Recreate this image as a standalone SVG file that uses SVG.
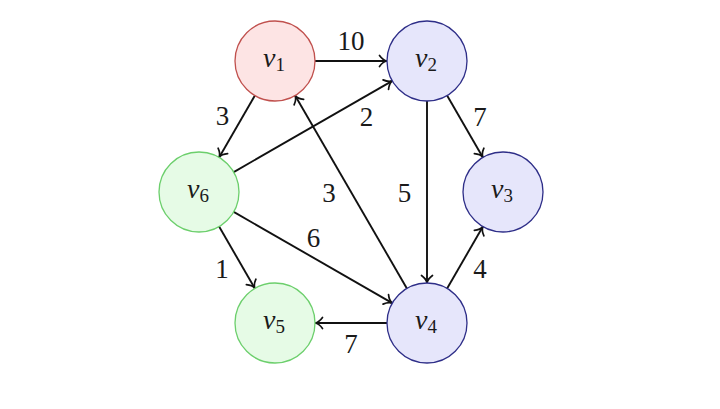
<svg xmlns="http://www.w3.org/2000/svg" width="720" height="409" viewBox="0 0 720 409">
<defs>
<marker id="to" markerUnits="userSpaceOnUse" markerWidth="16" markerHeight="16" viewBox="-9 -8 11 16" refX="0" refY="0" orient="auto">
<path d="M-7.5,-5.5 C-5,-2 -2,-0.3 0,0 C-2,0.3 -5,2 -7.5,5.5" fill="none" stroke="#111" stroke-width="1.7" stroke-linecap="round"/>
</marker>
<style>
.edge{stroke:#111;stroke-width:1.9;fill:none;marker-end:url(#to)}
.red{fill:#fde4e4;stroke:#c0504d;stroke-width:1.3}
.blue{fill:#e6e6fb;stroke:#2e2e88;stroke-width:1.3}
.green{fill:#e6fbe6;stroke:#6ccf6c;stroke-width:1.3}
.nl{font-family:'Liberation Serif','Times New Roman',serif;font-size:28px;fill:#1a1a1a;text-anchor:middle}
.v{font-style:italic}
.sub{font-size:19px}
.wl{font-family:'Liberation Serif','Times New Roman',serif;font-size:27px;fill:#1a1a1a;text-anchor:middle}
</style>
</defs>
<rect width="720" height="409" fill="#fff"/>
<g id="connectors">
<line class="edge" x1="315" y1="61" x2="387" y2="61"/>
<line class="edge" x1="254.9" y1="95.6" x2="219.1" y2="157.4"/>
<line class="edge" x1="233.7" y1="172.1" x2="392.3" y2="80.9"/>
<line class="edge" x1="406.9" y1="288.4" x2="295.1" y2="95.6"/>
<line class="edge" x1="427" y1="101" x2="427" y2="283"/>
<line class="edge" x1="447.1" y1="95.6" x2="482.9" y2="157.4"/>
<line class="edge" x1="219.1" y1="226.6" x2="254.9" y2="288.4"/>
<line class="edge" x1="233.7" y1="211.9" x2="392.3" y2="303.1"/>
<line class="edge" x1="447.1" y1="288.4" x2="482.9" y2="226.6"/>
<line class="edge" x1="387" y1="323" x2="315" y2="323"/>
<text class="wl" x="351" y="50">10</text>
<text class="wl" x="222.5" y="125">3</text>
<text class="wl" x="366.5" y="126">2</text>
<text class="wl" x="480" y="126">7</text>
<text class="wl" x="329" y="202">3</text>
<text class="wl" x="404.5" y="202">5</text>
<text class="wl" x="313.5" y="247">6</text>
<text class="wl" x="222" y="278">1</text>
<text class="wl" x="480" y="278">4</text>
<text class="wl" x="351" y="353">7</text>
</g>
<g id="v1"><circle class="red" cx="275" cy="61" r="40"/><text class="nl" x="274" y="67"><tspan class="v">v</tspan><tspan class="sub" dy="4">1</tspan></text></g>
<g id="v2"><circle class="blue" cx="427" cy="61" r="40"/><text class="nl" x="426" y="67"><tspan class="v">v</tspan><tspan class="sub" dy="4">2</tspan></text></g>
<g id="v3"><circle class="blue" cx="503" cy="192" r="40"/><text class="nl" x="502" y="198"><tspan class="v">v</tspan><tspan class="sub" dy="4">3</tspan></text></g>
<g id="v4"><circle class="blue" cx="427" cy="323" r="40"/><text class="nl" x="426" y="329"><tspan class="v">v</tspan><tspan class="sub" dy="4">4</tspan></text></g>
<g id="v5"><circle class="green" cx="275" cy="323" r="40"/><text class="nl" x="274" y="329"><tspan class="v">v</tspan><tspan class="sub" dy="4">5</tspan></text></g>
<g id="v6"><circle class="green" cx="199" cy="192" r="40"/><text class="nl" x="198" y="198"><tspan class="v">v</tspan><tspan class="sub" dy="4">6</tspan></text></g>
</svg>
